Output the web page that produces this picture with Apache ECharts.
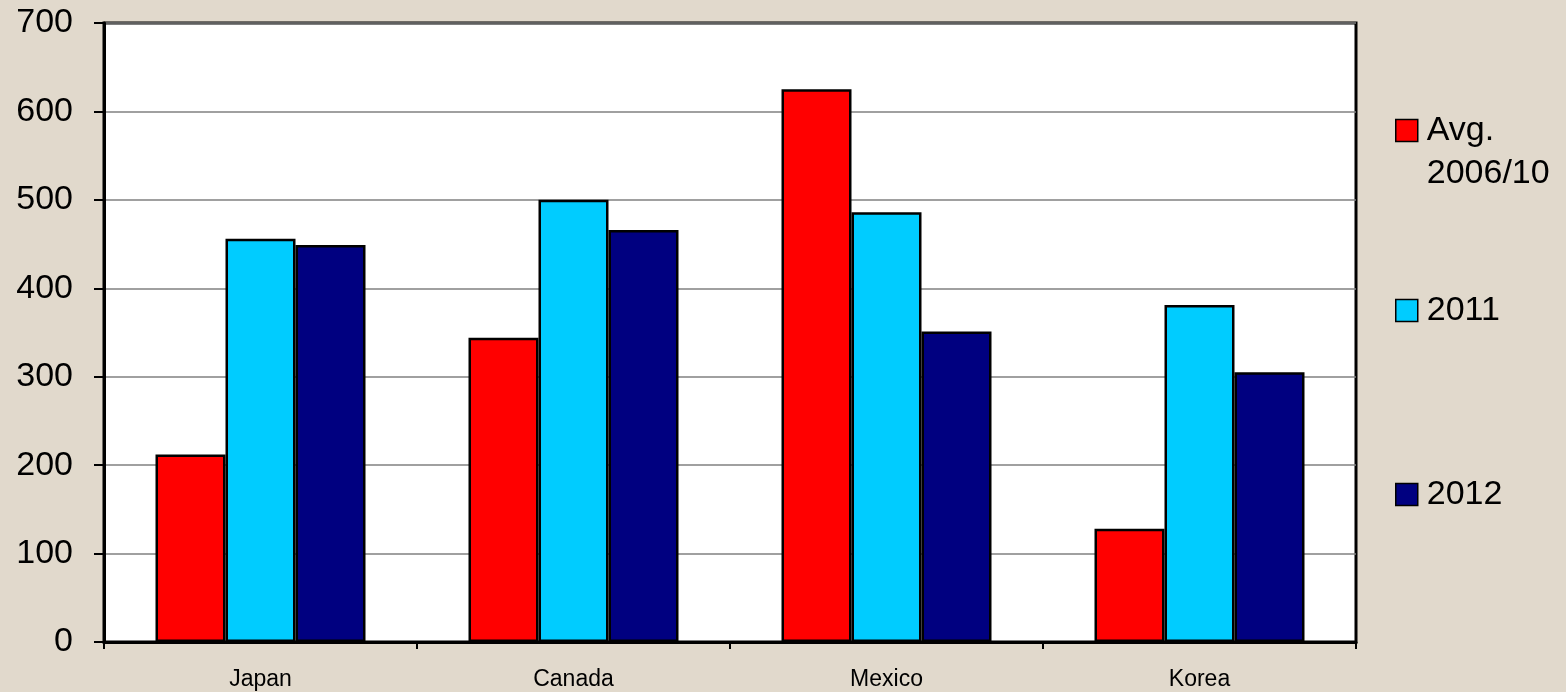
<!DOCTYPE html>
<html>
<head>
<meta charset="utf-8">
<script src="https://cdn.jsdelivr.net/npm/echarts@6/dist/echarts.min.js"></script>
<style>
  html, body { margin: 0; padding: 0; background: #e1d9cc; }
  #chart { width: 1566px; height: 692px; }
</style>
</head>
<body>
<div id="chart"></div>
<script>
const countries = ['Japan', 'Canada', 'Mexico', 'Korea'];
const avg200610 = [212, 344, 625, 128];
const y2011 = [456, 500, 486, 381];
const y2012 = [449, 466, 351, 305];

const font = '"Liberation Sans", Arial, sans-serif';

const chart = echarts.init(document.getElementById('chart'));

// one legend per entry so each can sit where the original puts it
const legendItem = (name, top, formatter) => ({
  data: [name],
  left: 1395,
  top: top,
  orient: 'vertical',
  padding: 0,
  itemWidth: 22,
  itemHeight: 22,
  selectedMode: false,
  icon: 'rect',
  formatter: formatter || '{name}',
  itemStyle: { borderColor: '#000', borderWidth: 1.5 },
  textStyle: {
    fontFamily: font,
    fontSize: 34,
    lineHeight: 43,
    color: '#000',
    padding: [0, 0, 0, 4]
  }
});

chart.setOption({
  animation: false,
  backgroundColor: 'transparent',
  grid: {
    left: 104,
    right: 210,
    top: 23,
    bottom: 50,
    show: true,
    backgroundColor: '#fff',
    borderColor: '#000',
    borderWidth: 3
  },
  legend: [
    // blank first line keeps the swatch level with "Avg."
    legendItem('Avg.\n2006/10', 66, name => ' \n' + name),
    legendItem('2011', 289),
    legendItem('2012', 473)
  ],
  xAxis: {
    type: 'category',
    data: countries,
    axisLine: { lineStyle: { color: '#000', width: 3 } },
    axisTick: { show: true, length: 7, lineStyle: { color: '#000', width: 2 } },
    axisLabel: { fontFamily: font, fontSize: 23, color: '#000', margin: 26 }
  },
  yAxis: {
    type: 'value',
    min: 0,
    max: 700,
    interval: 100,
    axisLine: { show: true, lineStyle: { color: '#000', width: 3 } },
    axisTick: { show: true, length: 10, lineStyle: { color: '#000', width: 2 } },
    axisLabel: { fontFamily: font, fontSize: 34, color: '#000', margin: 31 },
    splitLine: { lineStyle: { color: '#808080', width: 1.5 } }
  },
  series: [
    {
      name: 'Avg.\n2006/10',
      type: 'bar',
      data: avg200610,
      barWidth: 70,
      barGap: '0%',
      itemStyle: { color: '#ff0000', borderColor: '#000', borderWidth: 2.5 }
    },
    {
      name: '2011',
      type: 'bar',
      data: y2011,
      barWidth: 70,
      barGap: '0%',
      itemStyle: { color: '#00ccff', borderColor: '#000', borderWidth: 2.5 }
    },
    {
      name: '2012',
      type: 'bar',
      data: y2012,
      barWidth: 70,
      barGap: '0%',
      itemStyle: { color: '#000080', borderColor: '#000', borderWidth: 2.5 }
    }
  ]
});
</script>
</body>
</html>
